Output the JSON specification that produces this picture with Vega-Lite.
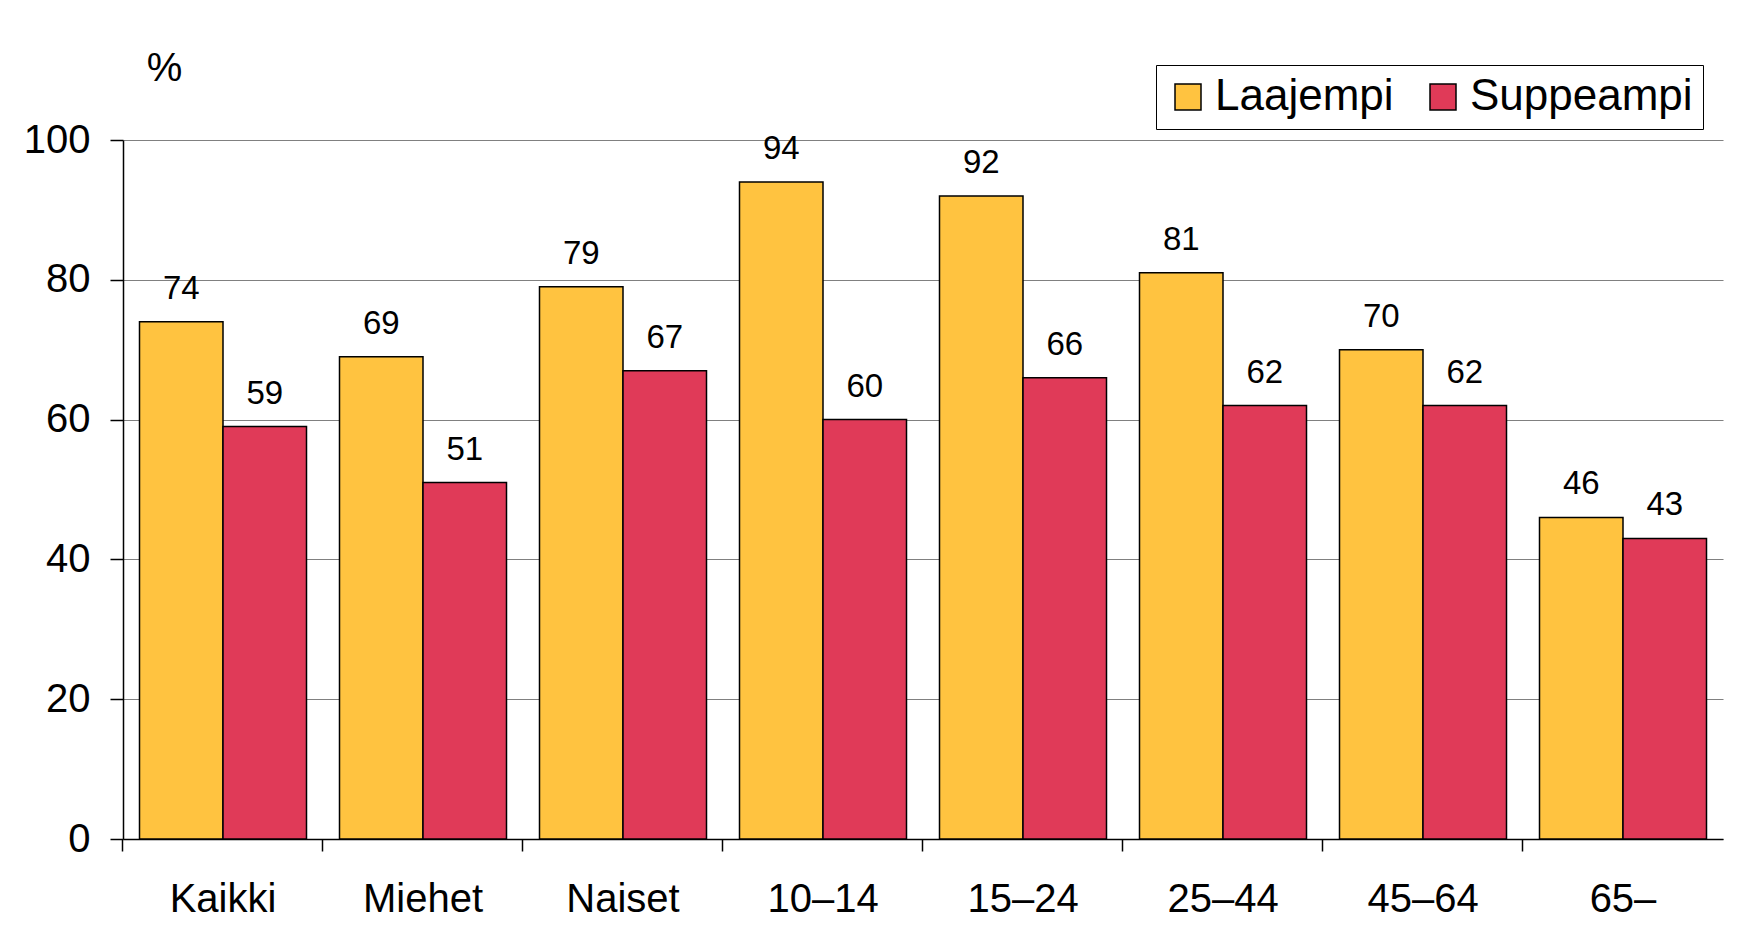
{
  "$schema": "https://vega.github.io/schema/vega-lite/v6.json",
  "width": 1600,
  "height": 699,
  "autosize": {"type": "none"},
  "padding": {"left": 123, "top": 140, "right": 15, "bottom": 98},
  "background": "white",
  "config": {
    "font": "Liberation Sans",
    "view": {"stroke": null},
    "axis": {"labelFont": "Liberation Sans", "titleFont": "Liberation Sans", "labelColor": "black", "titleColor": "black"}
  },
  "data": {
    "values": [
      {"group": "Kaikki", "series": "Laajempi", "value": 74},
      {"group": "Kaikki", "series": "Suppeampi", "value": 59},
      {"group": "Miehet", "series": "Laajempi", "value": 69},
      {"group": "Miehet", "series": "Suppeampi", "value": 51},
      {"group": "Naiset", "series": "Laajempi", "value": 79},
      {"group": "Naiset", "series": "Suppeampi", "value": 67},
      {"group": "10–14", "series": "Laajempi", "value": 94},
      {"group": "10–14", "series": "Suppeampi", "value": 60},
      {"group": "15–24", "series": "Laajempi", "value": 92},
      {"group": "15–24", "series": "Suppeampi", "value": 66},
      {"group": "25–44", "series": "Laajempi", "value": 81},
      {"group": "25–44", "series": "Suppeampi", "value": 62},
      {"group": "45–64", "series": "Laajempi", "value": 70},
      {"group": "45–64", "series": "Suppeampi", "value": 62},
      {"group": "65–", "series": "Laajempi", "value": 46},
      {"group": "65–", "series": "Suppeampi", "value": 43}
    ]
  },
  "encoding": {
    "x": {
      "field": "group",
      "type": "nominal",
      "sort": null,
      "scale": {"paddingInner": 0.165, "paddingOuter": 0.0825},
      "axis": {
        "title": null,
        "labelAngle": 0,
        "labelFontSize": 40,
        "labelPadding": 28,
        "bandPosition": -0.1018,
        "labelBound": false,
        "labelOverlap": false,
        "tickSize": 12,
        "tickColor": "black",
        "tickWidth": 1.5,
        "domainColor": "black",
        "domainWidth": 1.5,
        "grid": false
      }
    },
    "xOffset": {"field": "series", "type": "nominal", "scale": {"paddingInner": 0, "paddingOuter": 0}},
    "y": {
      "field": "value",
      "type": "quantitative",
      "scale": {"domain": [0, 100], "nice": false},
      "axis": {
        "title": "%",
        "titleAngle": 0,
        "titleX": 41,
        "titleY": -60,
        "titleAlign": "center",
        "titleBaseline": "alphabetic",
        "titleFontSize": 40,
        "titleFontWeight": "normal",
        "values": [0, 20, 40, 60, 80, 100],
        "labelFontSize": 40,
        "labelPadding": 20,
        "tickSize": 13,
        "tickColor": "black",
        "tickWidth": 1.5,
        "domainColor": "black",
        "domainWidth": 1.5,
        "grid": true,
        "gridColor": "#808080",
        "gridWidth": 1.2
      }
    }
  },
  "layer": [
    {
      "mark": {"type": "bar", "stroke": "black", "strokeWidth": 1.5},
      "encoding": {
        "fill": {
          "field": "series",
          "type": "nominal",
          "scale": {"domain": ["Laajempi", "Suppeampi"], "range": ["#FFC340", "#E03A58"]},
          "legend": {
            "title": null,
            "orient": "none",
            "legendX": 1033,
            "legendY": -75,
            "direction": "horizontal",
            "strokeColor": "black",
            "fillColor": "white",
            "padding": 10,
            "symbolType": "square",
            "symbolSize": 676,
            "symbolStrokeColor": "black",
            "symbolStrokeWidth": 1.5,
            "symbolOpacity": 1,
            "labelFontSize": 44,
            "labelFont": "Liberation Sans",
            "labelColor": "black",
            "labelOffset": 5,
            "columnPadding": 27,
            "labelLimit": 400
          }
        }
      }
    },
    {
      "mark": {"type": "text", "dy": -23, "baseline": "alphabetic", "fontSize": 33, "font": "Liberation Sans", "color": "black"},
      "encoding": {
        "text": {"field": "value", "type": "quantitative"}
      }
    }
  ]
}
